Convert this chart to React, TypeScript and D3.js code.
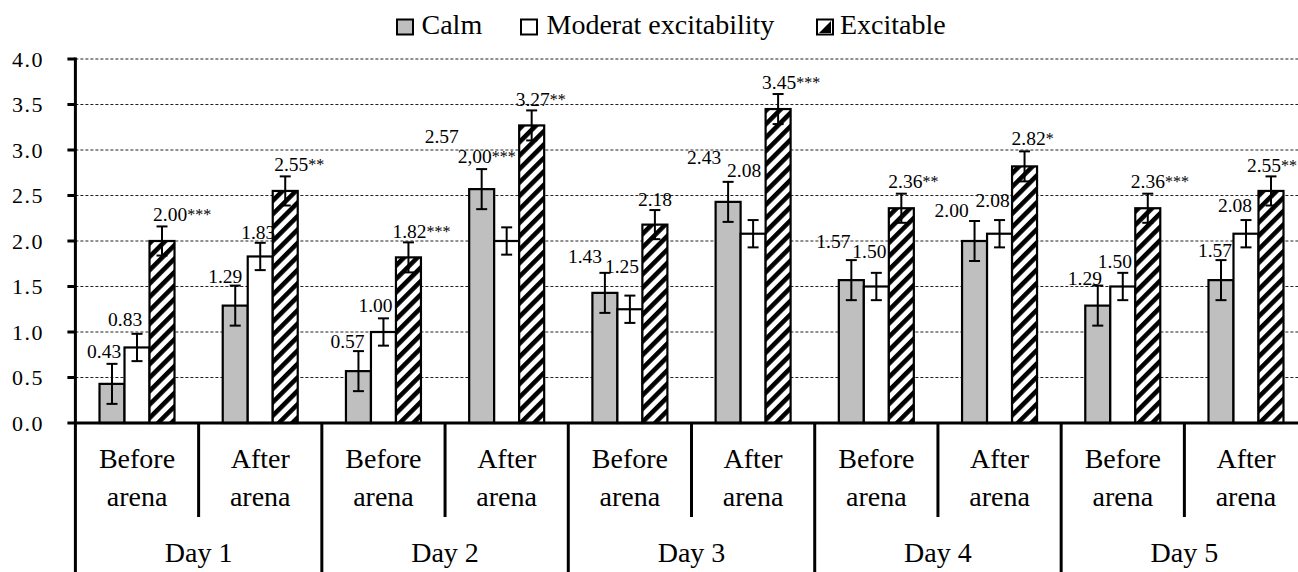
import React from 'react';
import * as d3 from 'd3';

// chart data
const days = ['Day 1', 'Day 2', 'Day 3', 'Day 4', 'Day 5'];
const phases = [['Before', 'arena'], ['After', 'arena']];
const seriesNames = ['Calm', 'Moderat excitability', 'Excitable'];

const calm = [0.43, 1.29, 0.57, 2.57, 1.43, 2.43, 1.57, 2.0, 1.29, 1.57];
const moderate = [0.83, 1.83, 1.0, 2.0, 1.25, 2.08, 1.5, 2.08, 1.5, 2.08];
const excitable = [2.0, 2.55, 1.82, 3.27, 2.18, 3.45, 2.36, 2.82, 2.36, 2.55];

const calmErr = [0.22, 0.22, 0.22, 0.22, 0.22, 0.22, 0.22, 0.22, 0.22, 0.22];
const moderateErr = [0.15, 0.15, 0.15, 0.15, 0.15, 0.15, 0.15, 0.15, 0.15, 0.15];
const excitableErr = [0.16, 0.16, 0.165, 0.165, 0.16, 0.165, 0.16, 0.165, 0.16, 0.16];

const calmLabels = ['0.43', '1.29', '0.57', '2.57', '1.43', '2.43', '1.57', '2.00', '1.29', '1.57'];
const moderateLabels = ['0.83', '1.83', '1.00', '2,00***', '1.25', '2.08', '1.50', '2.08', '1.50', '2.08'];
const excitableLabels = ['2.00***', '2.55**', '1.82***', '3.27**', '2.18', '3.45***', '2.36**', '2.82*', '2.36***', '2.55**'];

const yTicks = [0, 0.5, 1, 1.5, 2, 2.5, 3, 3.5, 4];

// label nudges (dx from bar centre, dy from error bar top), placed by hand like the original
const calmNudge = [[-25, -6], [-27, -3], [-28, -3], [-57, -26], [-37, -10], [-41, -18], [-35, -12], [-40, -4], [-30, -1], [-23, -3]];
const moderateNudge = [[-29, -8], [-19, -4], [-25, -6], [-49, -64], [-25, -23], [-26, -43], [-24, -15], [-24, -13], [-25, -5], [-28, -8]];
const excitableNudge = [[-9, -5], [-11, -5], [-16, -4], [-16, -4], [-17, -4], [-16, -5], [-13, -6], [-13, -6], [-17, -6], [-24, -4]];

const W = 1298;
const H = 572;
const FONT = 'Liberation Serif, serif';

const series = [
  { name: seriesNames[0], values: calm, err: calmErr, labels: calmLabels, nudge: calmNudge, fill: '#bfbfbf' },
  { name: seriesNames[1], values: moderate, err: moderateErr, labels: moderateLabels, nudge: moderateNudge, fill: '#ffffff' },
  { name: seriesNames[2], values: excitable, err: excitableErr, labels: excitableLabels, nudge: excitableNudge, fill: 'url(#hatch)' },
];

const txt = { fontFamily: FONT, fill: '#000' };

const App = () => {
  const cats = d3.range(days.length * phases.length);
  const x = d3.scaleBand<number>().domain(cats).range([75.4, 1307.6]).padding(0);
  const bw = x.bandwidth();
  const x1 = d3.scaleBand<string>().domain(seriesNames).range([bw / 2 - 37.5, bw / 2 + 37.5]);
  const y = d3.scaleLinear().domain([0, 4]).range([423, 59]);
  const left = x(0) as number;
  const dayW = bw * phases.length;

  return (
    <svg width={W} height={H} style={{ position: 'absolute', left: 0, top: 0, background: '#fff' }}>
      <defs>
        <pattern id="hatch" patternUnits="userSpaceOnUse" width="9.5" height="9.5" patternTransform="rotate(45)">
          <rect width="9.5" height="9.5" fill="#fff" />
          <rect width="4.6" height="9.5" fill="#000" />
        </pattern>
      </defs>

      {/* gridlines */}
      {yTicks.filter((t) => t > 0).map((t) => (
        <line key={'g' + t} x1={left} x2={W} y1={y(t)} y2={y(t)} stroke="#222" strokeWidth={1} strokeDasharray="3,2" />
      ))}

      {/* y ticks and labels */}
      {yTicks.map((t) => (
        <g key={'t' + t}>
          <line x1={left - 8} x2={left} y1={y(t)} y2={y(t)} stroke="#000" strokeWidth={3} />
          <text x={44} y={y(t)} dy="0.36em" textAnchor="end" fontSize={22} letterSpacing={1.5} style={txt}>
            {d3.format('.1f')(t)}
          </text>
        </g>
      ))}

      {/* bars */}
      {series.map((s) =>
        s.values.map((v, i) => (
          <rect
            key={s.name + i}
            x={(x(i) as number) + (x1(s.name) as number)}
            y={y(v)}
            width={x1.bandwidth()}
            height={y(0) - y(v)}
            fill={s.fill}
            stroke="#000"
            strokeWidth={2.2}
          />
        ))
      )}

      {/* error bars */}
      {series.map((s) =>
        s.values.map((v, i) => {
          const cx = (x(i) as number) + (x1(s.name) as number) + x1.bandwidth() / 2;
          const top = y(v + s.err[i]);
          const bot = y(v - s.err[i]);
          return (
            <g key={'e' + s.name + i} stroke="#000" strokeWidth={2}>
              <line x1={cx} x2={cx} y1={top} y2={bot} />
              <line x1={cx - 5.5} x2={cx + 5.5} y1={top} y2={top} />
              <line x1={cx - 5.5} x2={cx + 5.5} y1={bot} y2={bot} />
            </g>
          );
        })
      )}

      {/* data labels */}
      {series.map((s) =>
        s.labels.map((lab, i) => {
          const cx = (x(i) as number) + (x1(s.name) as number) + x1.bandwidth() / 2;
          const top = y(s.values[i] + s.err[i]);
          const m = lab.match(/^([\d.,]+)(\**)$/);
          const num = m ? m[1] : lab;
          const stars = m ? m[2] : '';
          return (
            <text key={'l' + s.name + i} x={cx + s.nudge[i][0]} y={top + s.nudge[i][1]} fontSize={19.5} style={txt}>
              {num}
              {stars && (
                <tspan fontSize={16} dy={-1}>
                  {stars}
                </tspan>
              )}
            </text>
          );
        })
      )}

      {/* axes */}
      <line x1={left} x2={W} y1={y(0)} y2={y(0)} stroke="#000" strokeWidth={3} />
      <line x1={left} x2={left} y1={y(4) - 1.5} y2={H} stroke="#000" strokeWidth={3} />

      {/* category separators and labels */}
      {cats.map((i) => {
        const isDayEdge = (i + 1) % phases.length === 0;
        const sx = (x(i) as number) + bw;
        const ph = phases[i % phases.length];
        const cx = (x(i) as number) + bw / 2;
        return (
          <g key={'c' + i}>
            <line x1={sx} x2={sx} y1={y(0)} y2={isDayEdge ? H : 517} stroke="#000" strokeWidth={3} />
            <text x={cx} y={468} textAnchor="middle" fontSize={28} style={txt}>{ph[0]}</text>
            <text x={cx} y={506} textAnchor="middle" fontSize={28} style={txt}>{ph[1]}</text>
          </g>
        );
      })}
      {days.map((d, k) => (
        <text key={d} x={left + dayW * k + dayW / 2} y={562} textAnchor="middle" fontSize={28} style={txt}>
          {d}
        </text>
      ))}

      {/* legend */}
      <g>
        <rect x={397} y={19.5} width={16} height={15} fill={series[0].fill} stroke="#000" strokeWidth={2} />
        <text x={421.5} y={33.5} fontSize={28} style={txt}>{seriesNames[0]}</text>
        <rect x={521} y={19.5} width={16} height={15} fill={series[1].fill} stroke="#000" strokeWidth={2} />
        <text x={546.5} y={33.5} fontSize={28} style={txt}>{seriesNames[1]}</text>
        <rect x={817} y={19.5} width={16} height={15} fill="#fff" stroke="#000" strokeWidth={2} />
        <path d="M 831 21 L 831 33 L 819 33 Z" fill="#000" />
        <text x={840} y={33.5} fontSize={28} style={txt}>{seriesNames[2]}</text>
      </g>
    </svg>
  );
};

export default App;
